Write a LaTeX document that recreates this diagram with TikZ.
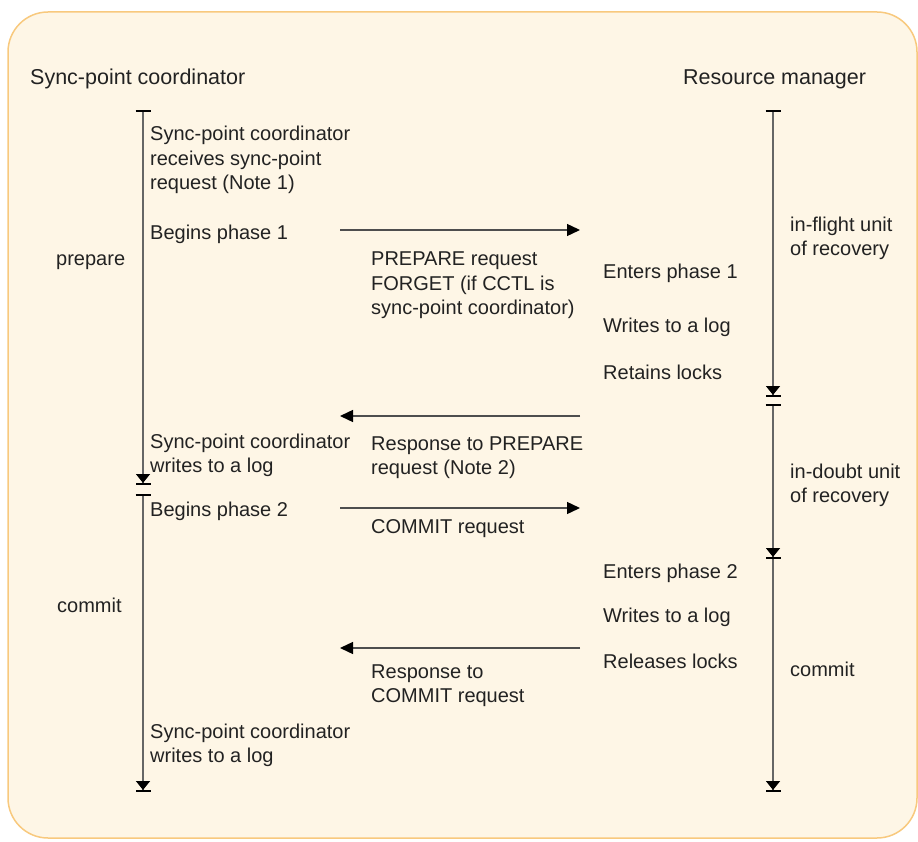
\documentclass[tikz,border=0pt]{standalone}
\usepackage{fontspec}
\setmainfont{Liberation Sans}
\usetikzlibrary{arrows.meta}
\definecolor{paper}{HTML}{FEF6E6}
\definecolor{frame}{HTML}{F8C97E}
\definecolor{linegray}{HTML}{666666}
\definecolor{ink}{HTML}{222222}
\tikzset{
  txt/.style={anchor=base west, inner sep=0pt, align=left, text=ink,
    font=\fontsize{20}{24.5}\selectfont},
  head/.style={txt, font=\fontsize{21.5}{26}\selectfont},
  phase/.style={draw=linegray, line width=1.6pt,
    {Bar[width=15pt,line width=2pt,black]}-{Triangle[length=9pt,width=14pt,black]Bar[width=15pt,line width=2pt,black]}},
  phaseopen/.style={draw=linegray, line width=1.6pt,
    -{Triangle[length=9pt,width=14pt,black]Bar[width=15pt,line width=2pt,black]}},
  msg/.style={draw=ink!80, line width=1.4pt, -{Triangle[length=13pt,width=12pt,black]}}
}
\begin{document}
\begin{tikzpicture}[x=1pt,y=-1pt]
\useasboundingbox (0,0) rectangle (918,842);
% Fondo
\draw [frame, fill=paper, line width=1.5pt, rounded corners=40pt] (8,12) rectangle (917,838);

% Titulos
\node [head] (scTitle) at (30,85) {Sync-point coordinator};
\node [head] (rmTitle) at (683,85) {Resource manager};

% Lineas de tiempo
\coordinate (sc1) at (143,110); \coordinate (sc2) at (143,485);
\coordinate (sc3) at (143,494); \coordinate (sc4) at (143,792);
\coordinate (rm1) at (773,110); \coordinate (rm2) at (773,397);
\coordinate (rm3) at (773,404); \coordinate (rm4) at (773,559);
\coordinate (rm5) at (773,792);
\draw [phase] (sc1) -- (sc2);
\draw [phase] (sc3) -- (sc4);
\draw [phase] (rm1) -- (rm2);
\draw [phase] (rm3) -- (rm4);
\draw [phaseopen] (rm4) -- (rm5);

% Coordinador (base = ultima linea)
\node [txt] (scReq) at (150,190) {Sync-point coordinator\\receives sync-point\\request (Note 1)};
\node [txt] (scP1) at (150,240) {Begins phase 1};
\node [txt] (scLog1) at (150,472.5) {Sync-point coordinator\\writes to a log};
\node [txt] (scP2) at (150,516) {Begins phase 2};
\node [txt] (scLog2) at (150,762.5) {Sync-point coordinator\\writes to a log};
\node [txt] (lPrep) at (56,266) {prepare};
\node [txt] (lCommit) at (57,612) {commit};

% Mensajes
\node [txt] (mPrep) at (371,315) {PREPARE request\\FORGET (if CCTL is\\sync-point coordinator)};
\node [txt] (mResp1) at (371,474.5) {Response to PREPARE\\request (Note 2)};
\node [txt] (mCommit) at (371,533) {COMMIT request};
\node [txt] (mResp2) at (371,702.5) {Response to\\COMMIT request};

% Gestor de recursos
\node [txt] (rmP1) at (603,279) {Enters phase 1};
\node [txt] (rmLog1) at (603,332) {Writes to a log};
\node [txt] (rmLock1) at (603,379) {Retains locks};
\node [txt] (rmP2) at (603,578) {Enters phase 2};
\node [txt] (rmLog2) at (603,622) {Writes to a log};
\node [txt] (rmLock2) at (603,668) {Releases locks};
\node [txt] (rFlight) at (790,255.5) {in-flight unit\\of recovery};
\node [txt] (rDoubt) at (790,502.5) {in-doubt unit\\of recovery};
\node [txt] (rCommit) at (790,676) {commit};

% Flechas
\coordinate (aL1) at (340,230); \coordinate (aR1) at (580,230);
\coordinate (aL2) at (340,416); \coordinate (aR2) at (580,416);
\coordinate (aL3) at (340,508); \coordinate (aR3) at (580,508);
\coordinate (aL4) at (340,648); \coordinate (aR4) at (580,648);
\draw [msg] (aL1) -- (aR1);
\draw [msg] (aR2) -- (aL2);
\draw [msg] (aL3) -- (aR3);
\draw [msg] (aR4) -- (aL4);
\end{tikzpicture}
\end{document}
